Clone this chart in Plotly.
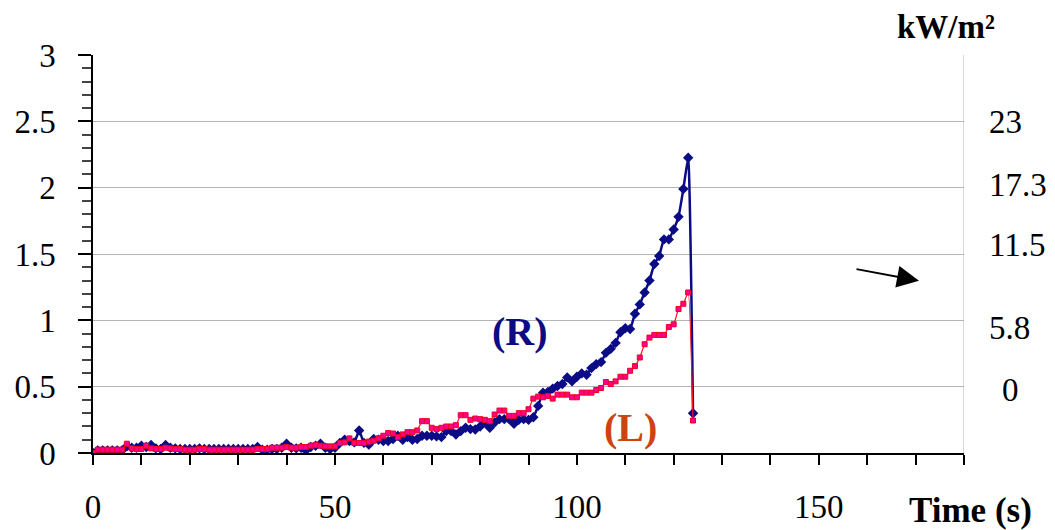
import plotly.graph_objects as go

# ---- data ----
time_s = list(range(0, 125))

flux_R = [
    0, 0.02, 0.02, 0.02, 0.02, 0.02, 0.02, 0.05, 0.04, 0.04,
    0.055, 0.045, 0.06, 0.035, 0.03, 0.06, 0.04, 0.035, 0.03, 0.03,
    0.03, 0.03, 0.035, 0.03, 0.03, 0.03, 0.03, 0.03, 0.03, 0.03,
    0.03, 0.03, 0.03, 0.03, 0.045, 0.025, 0.025, 0.03, 0.03, 0.04,
    0.07, 0.04, 0.035, 0.04, 0.02, 0.045, 0.055, 0.07, 0.04, 0.03,
    0.04, 0.075, 0.1, 0.09, 0.08, 0.17, 0.076, 0.063, 0.105, 0.1,
    0.09, 0.09, 0.105, 0.13, 0.1, 0.12, 0.1, 0.105, 0.13, 0.13,
    0.13, 0.125, 0.12, 0.165, 0.165, 0.14, 0.165, 0.19, 0.18, 0.177,
    0.2, 0.23, 0.19, 0.23, 0.255, 0.255, 0.255, 0.22, 0.25, 0.255,
    0.25, 0.27, 0.355, 0.455, 0.46, 0.485, 0.505, 0.52, 0.57, 0.54,
    0.575, 0.6, 0.59, 0.64, 0.67, 0.685, 0.755, 0.785, 0.83, 0.91,
    0.94, 0.935, 1.05, 1.12, 1.21, 1.30, 1.425, 1.485, 1.61, 1.61,
    1.685, 1.78, 1.99, 2.225, 0.30,
]

flux_L = [
    0, 0.025, 0.025, 0.025, 0.025, 0.025, 0.025, 0.07, 0.035, 0.03,
    0.03, 0.055, 0.035, 0.03, 0.03, 0.04, 0.035, 0.03, 0.03, 0.025,
    0.025, 0.025, 0.03, 0.03, 0.025, 0.025, 0.025, 0.025, 0.025, 0.025,
    0.025, 0.025, 0.025, 0.025, 0.03, 0.03, 0.03, 0.04, 0.04, 0.04,
    0.045, 0.04, 0.04, 0.045, 0.045, 0.055, 0.06, 0.055, 0.05, 0.05,
    0.05, 0.075, 0.08, 0.11, 0.076, 0.076, 0.076, 0.086, 0.093, 0.11,
    0.13, 0.15, 0.147, 0.12, 0.14, 0.157, 0.157, 0.17, 0.24, 0.24,
    0.19, 0.18, 0.19, 0.2, 0.2, 0.21, 0.285, 0.285, 0.25, 0.26,
    0.255, 0.25, 0.24, 0.29, 0.32, 0.32, 0.28, 0.28, 0.3, 0.3,
    0.33, 0.41, 0.425, 0.42, 0.43, 0.41, 0.44, 0.44, 0.44, 0.42,
    0.42, 0.455, 0.455, 0.455, 0.475, 0.49, 0.535, 0.52, 0.54, 0.575,
    0.575, 0.62, 0.655, 0.72, 0.82, 0.87, 0.89, 0.89, 0.89, 0.95,
    0.97, 1.085, 1.125, 1.21, 0.245,
]

x_tick_vals = list(range(0, 190, 10))
x_tick_labels = ["0", "", "", "", "", "50", "", "", "", "", "100", "", "", "", "", "150", "", "", ""]
y_tick_vals = [0, 0.5, 1, 1.5, 2, 2.5, 3]
y_tick_labels = ["0", "0.5", "1", "1.5", "2", "2.5", "3"]
right_labels = ["23", "17.3", "11.5", "5.8", "0"]
right_label_y = [2.496, 2.021, 1.569, 0.944, 0.477]

FONT = "Liberation Serif, Times New Roman, serif"
NAVY = "#0B0B86"

fig = go.Figure()
fig.add_trace(go.Scatter(
    x=time_s, y=flux_R, mode="lines+markers", name="R",
    line=dict(color=NAVY, width=2.5, shape="spline", smoothing=0.4),
    marker=dict(symbol="diamond", size=8, color=NAVY),
))
fig.add_trace(go.Scatter(
    x=time_s, y=flux_L, mode="lines+markers", name="L",
    line=dict(color="#FF1020", width=1.2, shape="spline", smoothing=0.4),
    marker=dict(symbol="square", size=5, color="#FF0088", line=dict(color="#EE0022", width=1)),
))

fig.update_layout(
    width=1055, height=530,
    margin=dict(l=93, r=91, t=55, b=77),
    paper_bgcolor="white", plot_bgcolor="white",
    showlegend=False,
    font=dict(family=FONT, size=33, color="black"),
    xaxis=dict(
        range=[0, 180], tickmode="array", tickvals=x_tick_vals, ticktext=x_tick_labels,
        ticks="outside", ticklen=10, tickwidth=1.5, tickcolor="black",
        showline=True, linecolor="black", linewidth=1.5,
        showgrid=False, zeroline=False, automargin=False,
        tickfont=dict(family=FONT, size=33),
        ticklabelstandoff=14,
    ),
    yaxis=dict(
        range=[0, 3], tickmode="array", tickvals=y_tick_vals, ticktext=y_tick_labels,
        ticks="outside", ticklen=13, tickwidth=1.5, tickcolor="black",
        minor=dict(dtick=0.1, ticks="outside", ticklen=9, tickcolor="#444", tickwidth=1.5, showgrid=False),
        showline=True, linecolor="black", linewidth=1.5,
        showgrid=True, gridcolor="#B4B4B4", gridwidth=1,
        zeroline=False, automargin=False,
        tickfont=dict(family=FONT, size=33),
        ticklabelstandoff=16,
    ),
)

# right border of plot area
fig.add_shape(type="line", xref="x", yref="y", x0=180, x1=180, y0=0, y1=3,
              line=dict(color="#B4B4B4", width=1))

# right-hand scale labels
for lab, yv in zip(right_labels, right_label_y):
    fig.add_annotation(text=lab, xref="paper", yref="y",
                       x=(1000 - 93) / 871 if lab == "0" else (987 - 93) / 871, y=yv,
                       xanchor="left", yanchor="middle", showarrow=False,
                       font=dict(family=FONT, size=33, color="black"))

fig.add_annotation(text="<b>kW/m²</b>", xref="paper", yref="paper",
                   x=(895 - 93) / 871, y=(453.3 - 27) / 398.3, xanchor="left", yanchor="middle",
                   showarrow=False, font=dict(family=FONT, size=33, color="black"))
fig.add_annotation(text="<b>Time (s)</b>", xref="paper", yref="paper",
                   x=(907 - 93) / 871, y=(453.3 - 511) / 398.3, xanchor="left", yanchor="middle",
                   showarrow=False, font=dict(family=FONT, size=35, color="black"))
fig.add_annotation(text="<b>(R)</b>", xref="paper", yref="paper",
                   x=(520 - 93) / 871, y=(453.3 - 332) / 398.3, xanchor="center", yanchor="middle",
                   showarrow=False, font=dict(family=FONT, size=40, color=NAVY))
fig.add_annotation(text="<b>(L)</b>", xref="paper", yref="paper",
                   x=(630 - 93) / 871, y=(453.3 - 428) / 398.3, xanchor="center", yanchor="middle",
                   showarrow=False, font=dict(family=FONT, size=40, color="#CC4410"))

# arrow
fig.add_annotation(text="", xref="paper", yref="paper",
                   x=(919 - 93) / 871, y=(453.3 - 281) / 398.3,
                   ax=-64, ay=-12, showarrow=True, arrowhead=2, arrowsize=2.2,
                   arrowwidth=2, arrowcolor="black")

fig.write_html("out.html")
